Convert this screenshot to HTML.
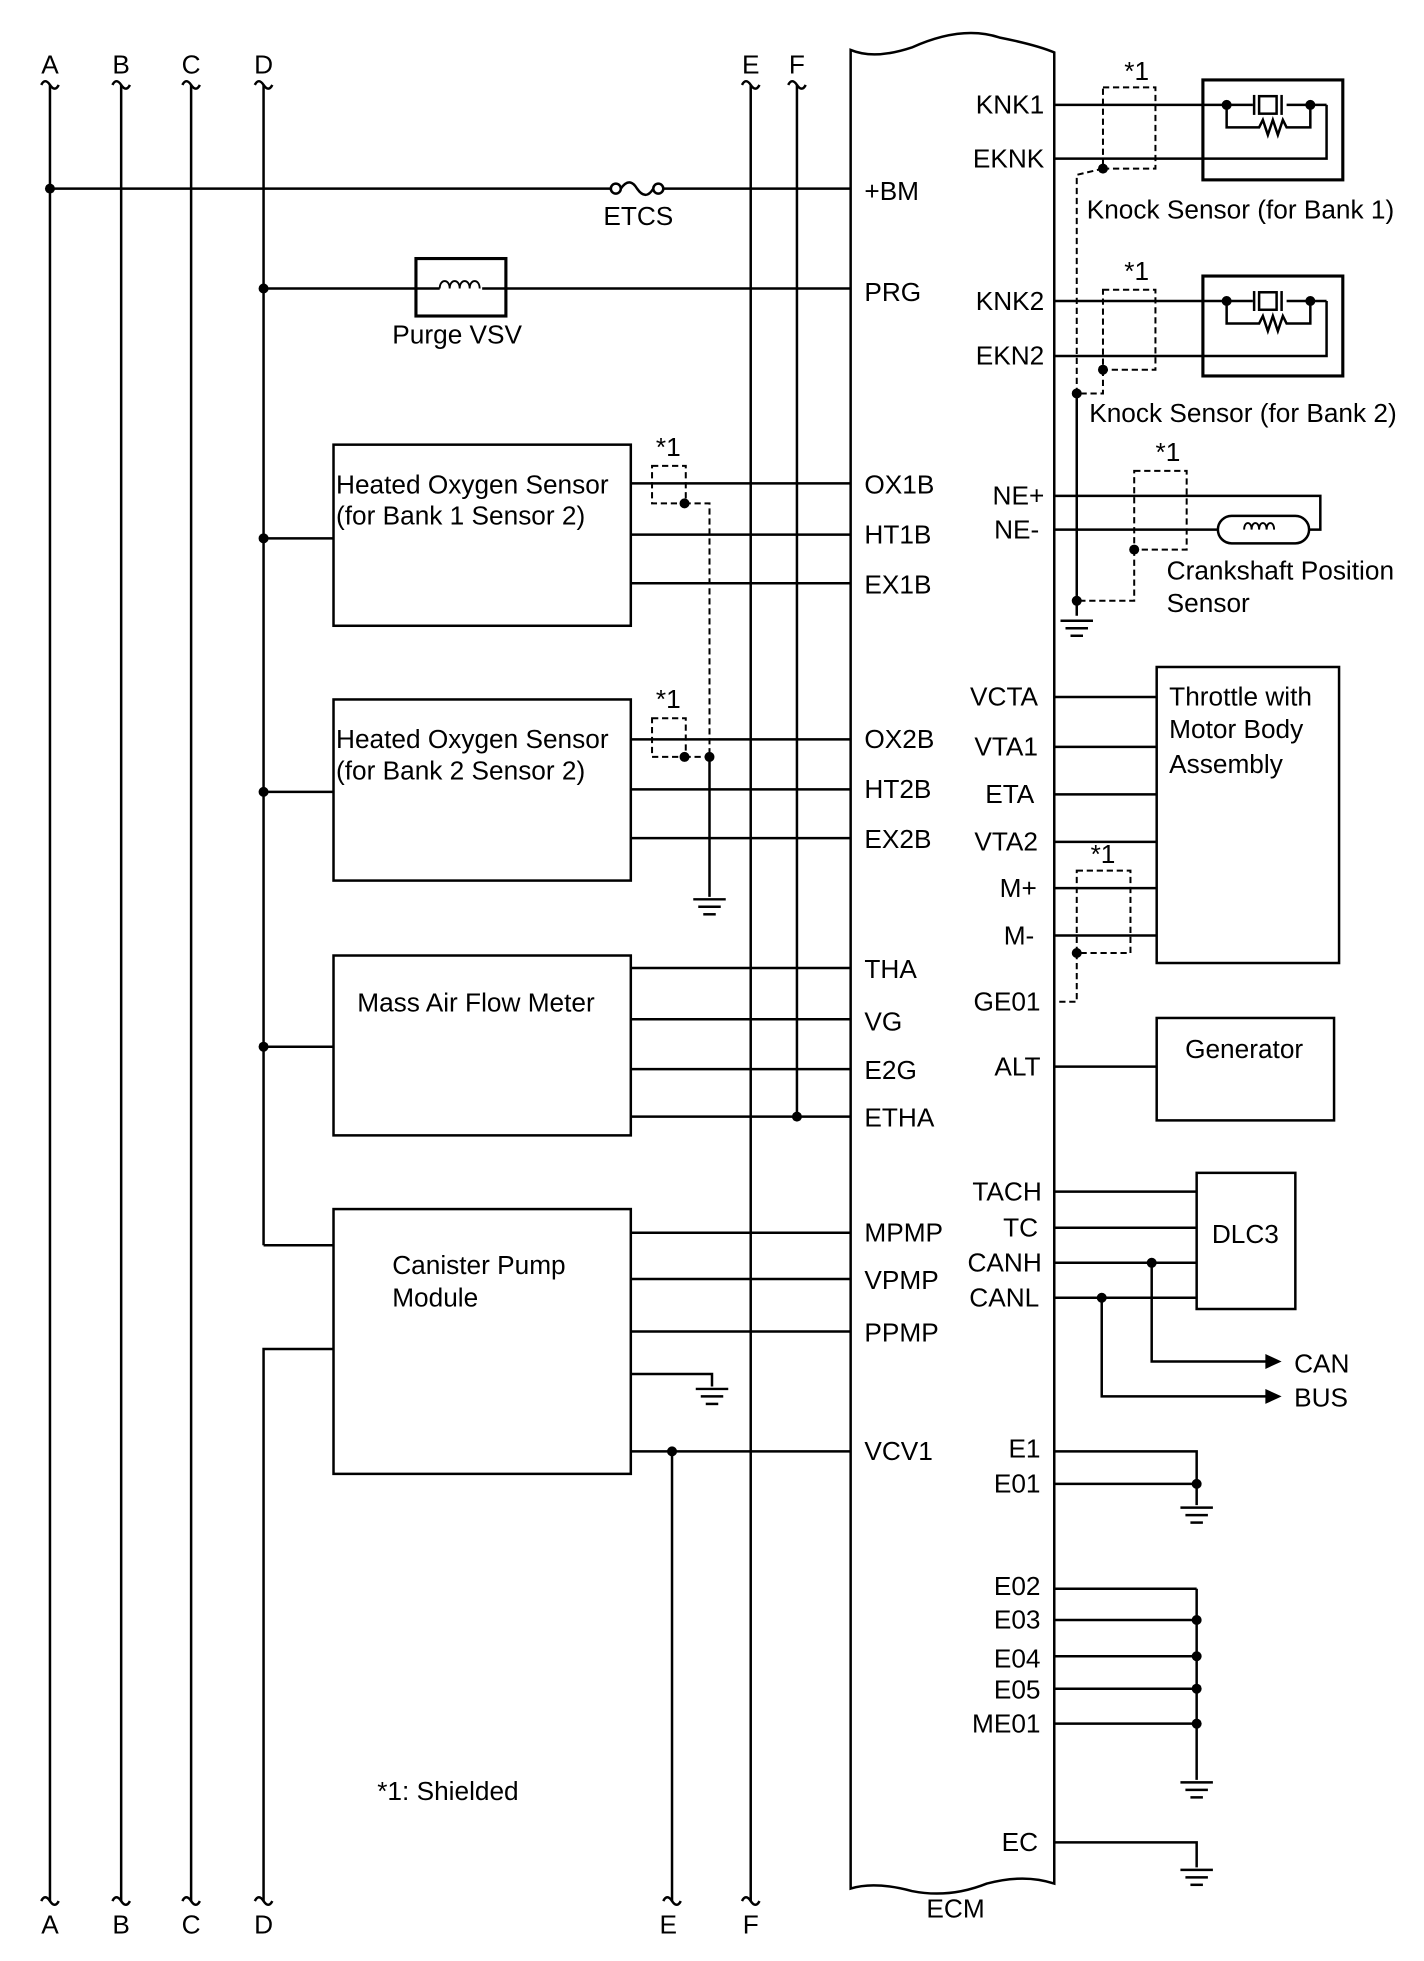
<!DOCTYPE html>
<html><head><style>html,body{margin:0;padding:0;background:#fff}svg{display:block}text{font-family:"Liberation Sans",sans-serif;font-size:21px;fill:#000}</style></head><body>
<svg width="1424" height="1961" viewBox="0 0 1140 1570" preserveAspectRatio="none" xmlns="http://www.w3.org/2000/svg">
<defs>
<g id="gnd"><line x1="-13" y1="0" x2="13" y2="0"/><line x1="-9" y1="6" x2="9" y2="6"/><line x1="-5" y1="12" x2="5" y2="12"/></g>
<g id="sq"><path d="M-7,4 q3,-6 7,0 q4,6 7,0" fill="none"/></g>
</defs>
<g stroke="#000" stroke-width="2" fill="none">
<line x1="40" y1="68" x2="40" y2="1522"/>
<line x1="97" y1="68" x2="97" y2="1522"/>
<line x1="153" y1="68" x2="153" y2="1522"/>
<line x1="211" y1="68" x2="211" y2="997"/><line x1="211" y1="997" x2="267" y2="997"/>
<polyline points="267,1080 211,1080 211,1522"/>
<line x1="601" y1="68" x2="601" y2="1522"/>
<line x1="638" y1="68" x2="638" y2="894"/>
<line x1="538" y1="1162" x2="538" y2="1522"/>
<use href="#sq" x="40" y="64"/><use href="#sq" x="97" y="64"/><use href="#sq" x="153" y="64"/><use href="#sq" x="211" y="64"/><use href="#sq" x="601" y="64"/><use href="#sq" x="638" y="64"/>
<use href="#sq" x="40" y="1518"/><use href="#sq" x="97" y="1518"/><use href="#sq" x="153" y="1518"/><use href="#sq" x="211" y="1518"/><use href="#sq" x="538" y="1518"/><use href="#sq" x="601" y="1518"/>
<path d="M681,1512 L681,40 Q700,48 730,38 Q770,20 800,30 Q830,36 844,42 L844,1508 Q820,1500 790,1508 Q760,1520 730,1514 Q700,1506 681,1512 Z"/>
<line x1="40" y1="151" x2="490" y2="151"/><line x1="530" y1="151" x2="681" y2="151"/>
<circle cx="493" cy="151" r="4"/><circle cx="527" cy="151" r="4"/><path d="M497,151 q7,-10 13,0 q7,10 13,0"/>
<line x1="211" y1="231" x2="681" y2="231"/>
<rect x="333" y="207" width="72" height="46" fill="#fff" stroke-width="2.5"/>
<line x1="333" y1="231" x2="352" y2="231"/><line x1="386" y1="231" x2="405" y2="231"/>
<path d="M352,231 c0,-8 8,-8 8,0 c0,-8 8,-8 8,0 c0,-8 8,-8 8,0 c0,-8 8,-8 8,0" stroke-width="1.5"/>
<rect x="267" y="356" width="238" height="145"/>
<line x1="211" y1="431" x2="267" y2="431"/>
<line x1="505" y1="387" x2="681" y2="387"/><line x1="505" y1="428" x2="681" y2="428"/><line x1="505" y1="467" x2="681" y2="467"/>
<rect x="267" y="560" width="238" height="145"/>
<line x1="211" y1="634" x2="267" y2="634"/>
<line x1="505" y1="592" x2="681" y2="592"/><line x1="505" y1="632" x2="681" y2="632"/><line x1="505" y1="671" x2="681" y2="671"/>
<line x1="568" y1="606" x2="568" y2="718"/><use href="#gnd" x="568" y="720"/>
<rect x="267" y="765" width="238" height="144"/>
<line x1="211" y1="838" x2="267" y2="838"/>
<line x1="505" y1="775" x2="681" y2="775"/><line x1="505" y1="816" x2="681" y2="816"/><line x1="505" y1="856" x2="681" y2="856"/><line x1="505" y1="894" x2="681" y2="894"/>
<rect x="267" y="968" width="238" height="212"/>
<line x1="505" y1="987" x2="681" y2="987"/><line x1="505" y1="1024" x2="681" y2="1024"/><line x1="505" y1="1066" x2="681" y2="1066"/><line x1="505" y1="1162" x2="681" y2="1162"/>
<polyline points="505,1100 570,1100 570,1110"/><use href="#gnd" x="570" y="1112"/>
<rect x="963" y="64" width="112" height="80" stroke-width="2.5"/>
<line x1="844" y1="84" x2="1003" y2="84"/><line x1="1030" y1="84" x2="1062" y2="84"/>
<rect x="1008" y="77" width="14" height="14"/><line x1="1004" y1="76" x2="1004" y2="92"/><line x1="1026" y1="76" x2="1026" y2="92"/>
<polyline points="844,127 1062,127 1062,84"/>
<polyline points="982,84 982,102 1008,102 1011,96 1015,108 1019,96 1023,108 1027,96 1030,102 1049,102 1049,84"/>
<rect x="963" y="221" width="112" height="80" stroke-width="2.5"/>
<line x1="844" y1="241" x2="1003" y2="241"/><line x1="1030" y1="241" x2="1062" y2="241"/>
<rect x="1008" y="234" width="14" height="14"/><line x1="1004" y1="233" x2="1004" y2="249"/><line x1="1026" y1="233" x2="1026" y2="249"/>
<polyline points="844,285 1062,285 1062,241"/>
<polyline points="982,241 982,259 1008,259 1011,253 1015,265 1019,253 1023,265 1027,253 1030,259 1049,259 1049,241"/>
<line x1="862" y1="315" x2="862" y2="493"/><use href="#gnd" x="862" y="497"/>
<polyline points="844,397 1057,397 1057,424 1048,424"/>
<line x1="844" y1="424" x2="975" y2="424"/>
<rect x="975" y="413" width="73" height="22" rx="11"/>
<path d="M996,424 c0,-7 6,-7 6,0 c0,-7 6,-7 6,0 c0,-7 6,-7 6,0 c0,-7 6,-7 6,0" stroke-width="1.5"/>
<rect x="926" y="534" width="146" height="237"/>
<line x1="844" y1="558" x2="926" y2="558"/><line x1="844" y1="598" x2="926" y2="598"/><line x1="844" y1="636" x2="926" y2="636"/><line x1="844" y1="674" x2="926" y2="674"/><line x1="844" y1="711" x2="926" y2="711"/><line x1="844" y1="749" x2="926" y2="749"/>
<rect x="926" y="815" width="142" height="82"/>
<line x1="844" y1="854" x2="926" y2="854"/>
<rect x="958" y="939" width="79" height="109"/>
<line x1="844" y1="954" x2="958" y2="954"/><line x1="844" y1="983" x2="958" y2="983"/><line x1="844" y1="1011" x2="958" y2="1011"/><line x1="844" y1="1039" x2="958" y2="1039"/>
<polyline points="922,1011 922,1090 1014,1090"/><polyline points="882,1039 882,1118 1014,1118"/>
<polyline points="844,1162 958,1162 958,1205"/><line x1="844" y1="1188" x2="958" y2="1188"/><use href="#gnd" x="958" y="1207"/>
<line x1="844" y1="1272" x2="958" y2="1272"/><line x1="844" y1="1297" x2="958" y2="1297"/><line x1="844" y1="1326" x2="958" y2="1326"/><line x1="844" y1="1352" x2="958" y2="1352"/><line x1="844" y1="1380" x2="958" y2="1380"/>
<line x1="958" y1="1272" x2="958" y2="1425"/><use href="#gnd" x="958" y="1427"/>
<polyline points="844,1475 958,1475 958,1495"/><use href="#gnd" x="958" y="1497"/>
</g>
<g stroke="#000" stroke-width="1.6" fill="none" stroke-dasharray="5,3">
<rect x="522" y="373" width="27" height="30"/><polyline points="548,403 568,403 568,606"/>
<rect x="522" y="575" width="27" height="31"/><line x1="548" y1="606" x2="568" y2="606"/>
<rect x="883" y="70" width="42" height="65"/><polyline points="883,135 862,140 862,315"/>
<rect x="883" y="232" width="42" height="64"/><polyline points="883,296 883,315 862,315"/>
<rect x="908" y="377" width="42" height="63"/><polyline points="908,440 908,481 862,481"/>
<rect x="862" y="697" width="43" height="66"/><polyline points="862,763 862,802 844,802"/>
</g>
<g fill="#000">
<circle cx="40" cy="151" r="4"/><circle cx="211" cy="231" r="4"/><circle cx="211" cy="431" r="4"/><circle cx="211" cy="634" r="4"/><circle cx="211" cy="838" r="4"/>
<circle cx="548" cy="403" r="4"/><circle cx="548" cy="606" r="4"/><circle cx="568" cy="606" r="4"/><circle cx="638" cy="894" r="4"/><circle cx="538" cy="1162" r="4"/>
<circle cx="982" cy="84" r="4"/><circle cx="1049" cy="84" r="4"/><circle cx="982" cy="241" r="4"/><circle cx="1049" cy="241" r="4"/>
<circle cx="883" cy="135" r="4"/><circle cx="883" cy="296" r="4"/><circle cx="862" cy="315" r="4"/><circle cx="908" cy="440" r="4"/><circle cx="862" cy="481" r="4"/><circle cx="862" cy="763" r="4"/>
<circle cx="922" cy="1011" r="4"/><circle cx="882" cy="1039" r="4"/>
<circle cx="958" cy="1188" r="4"/><circle cx="958" cy="1297" r="4"/><circle cx="958" cy="1326" r="4"/><circle cx="958" cy="1352" r="4"/><circle cx="958" cy="1380" r="4"/>
<path d="M1026,1090 l-13,-6 v12 z"/><path d="M1026,1118 l-13,-6 v12 z"/>
</g>
<g text-anchor="middle">
<text x="40" y="59">A</text><text x="97" y="59">B</text><text x="153" y="59">C</text><text x="211" y="59">D</text><text x="601" y="59">E</text><text x="638" y="59">F</text>
<text x="40" y="1548">A</text><text x="97" y="1548">B</text><text x="153" y="1548">C</text><text x="211" y="1548">D</text><text x="535" y="1548">E</text><text x="601" y="1548">F</text>
<text x="511" y="180">ETCS</text><text x="366" y="275">Purge VSV</text><text x="765" y="1535">ECM</text>
<text x="535" y="365">*1</text><text x="535" y="567">*1</text><text x="910" y="64">*1</text><text x="910" y="224">*1</text><text x="935" y="369">*1</text><text x="883" y="691">*1</text>
<text x="996" y="847">Generator</text><text x="997" y="995">DLC3</text>
</g>
<g>
<text x="269" y="395">Heated Oxygen Sensor</text><text x="269" y="420">(for Bank 1  Sensor 2)</text>
<text x="269" y="599">Heated Oxygen Sensor</text><text x="269" y="624">(for Bank 2  Sensor 2)</text>
<text x="286" y="810">Mass Air Flow Meter</text>
<text x="314" y="1020">Canister Pump</text><text x="314" y="1046">Module</text>
<text x="870" y="175">Knock Sensor (for Bank 1)</text><text x="872" y="338">Knock Sensor (for Bank 2)</text>
<text x="934" y="464">Crankshaft Position</text><text x="934" y="490">Sensor</text>
<text x="936" y="565">Throttle with</text><text x="936" y="591">Motor Body</text><text x="936" y="619">Assembly</text>
<text x="1036" y="1099">CAN</text><text x="1036" y="1126">BUS</text>
<text x="302" y="1441">*1: Shielded</text>
<text x="692" y="160">+BM</text><text x="692" y="241">PRG</text><text x="692" y="395">OX1B</text><text x="692" y="435">HT1B</text><text x="692" y="475">EX1B</text>
<text x="692" y="599">OX2B</text><text x="692" y="639">HT2B</text><text x="692" y="679">EX2B</text>
<text x="692" y="783">THA</text><text x="692" y="825">VG</text><text x="692" y="864">E2G</text><text x="692" y="902">ETHA</text>
<text x="692" y="994">MPMP</text><text x="692" y="1032">VPMP</text><text x="692" y="1074">PPMP</text><text x="692" y="1169">VCV1</text>
</g>
<g text-anchor="end">
<text x="836" y="91">KNK1</text><text x="836" y="134">EKNK</text><text x="836" y="248">KNK2</text><text x="836" y="292">EKN2</text>
<text x="836" y="404">NE+</text><text x="832" y="431">NE-</text>
<text x="831" y="565">VCTA</text><text x="831" y="605">VTA1</text><text x="828" y="643">ETA</text><text x="831" y="681">VTA2</text><text x="830" y="718">M+</text><text x="828" y="756">M-</text>
<text x="833" y="809">GE01</text><text x="833" y="861">ALT</text>
<text x="834" y="961">TACH</text><text x="831" y="990">TC</text><text x="834" y="1018">CANH</text><text x="832" y="1046">CANL</text>
<text x="833" y="1167">E1</text><text x="833" y="1195">E01</text>
<text x="833" y="1277">E02</text><text x="833" y="1304">E03</text><text x="833" y="1335">E04</text><text x="833" y="1360">E05</text><text x="833" y="1387">ME01</text>
<text x="831" y="1482">EC</text>
</g>
</svg>
</body></html>
